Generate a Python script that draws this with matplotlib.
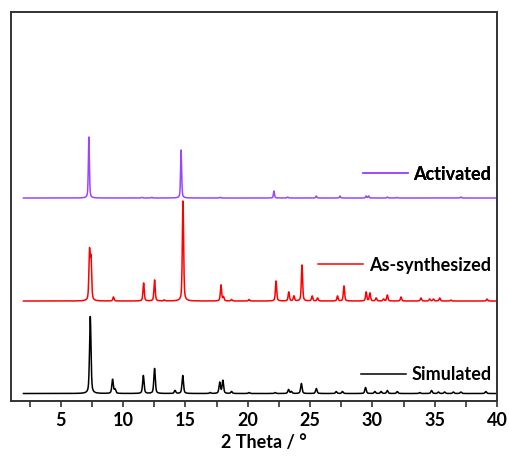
import numpy as np
import matplotlib
matplotlib.use("Agg")
import matplotlib.pyplot as plt
from matplotlib.ticker import MultipleLocator
from matplotlib.lines import Line2D

plt.rcParams['font.family'] = ['Lato', 'DejaVu Sans']
plt.rcParams['font.weight'] = 'bold'

# peak positions (2 theta) and heights
sim_pos = [7.36, 9.15, 9.35, 11.62, 12.52, 14.16, 14.78, 16.98, 17.75, 18.0, 18.7, 20.1,
           22.2, 23.27, 23.5, 24.3, 25.5, 27.1, 27.6, 29.45, 30.2, 30.7, 31.2, 32.0,
           33.8, 34.75, 35.3, 35.8, 36.5, 37.1, 39.1]
sim_h = [77, 14, 4, 18, 25, 3, 18, 1, 11, 13, 2, 1,
         1, 4, 2, 10, 5, 2, 2, 6, 2, 2, 3, 2,
         1, 3, 1.5, 1.5, 1.5, 1.5, 2]

syn_pos = [7.30, 7.42, 9.22, 11.64, 12.52, 13.3, 14.8, 17.85, 18.05, 18.7, 20.1,
           22.27, 23.29, 23.7, 24.35, 25.17, 25.6, 27.2, 27.72, 29.5, 29.8, 30.3, 30.9,
           31.2, 32.3, 33.9, 34.6, 34.9, 35.4, 36.3, 39.2]
syn_h = [48, 40, 4, 18, 21, 1, 100, 16, 4, 1.5, 1.5,
         20, 9, 5, 36, 5, 3, 5, 15, 9, 8, 3, 2,
         6, 4, 3, 2, 2, 3, 1, 2]

act_pos = [7.25, 11.5, 12.3, 14.65, 17.8, 22.1, 23.2, 25.5, 27.4, 29.5, 29.7, 31.2, 32.0, 37.1]
act_h = [61, 0.7, 0.7, 48, 0.7, 7, 1, 2, 2, 2, 2, 1, 0.6, 1]

offsets = {'Simulated': 7.5, 'As-synthesized': 100, 'Activated': 203}
colors = {'Simulated': 'black', 'As-synthesized': '#ff0000', 'Activated': '#9b45ff'}


def pattern(x, pos, h, fwhm):
    y = np.zeros_like(x)
    g = fwhm / 2
    for p, a in zip(pos, h):
        lor = g**2 / ((x - p)**2 + g**2)
        gau = np.exp(-np.log(2) * ((x - p) / g)**2)
        y += a * (0.5 * lor + 0.5 * gau)
    return y


x = np.arange(2, 40.001, 0.01)

fig = plt.figure(figsize=(5.1, 4.57), dpi=100)
ax = fig.add_axes([0.0216, 0.1225, 0.9529, 0.8512])

series = [('Simulated', sim_pos, sim_h, 0.14),
          ('As-synthesized', syn_pos, syn_h, 0.12),
          ('Activated', act_pos, act_h, 0.1)]

for name, pos, h, w in series:
    ax.plot(x, pattern(x, pos, h, w) + offsets[name], color=colors[name], lw=1.1)

# labels next to each trace
anchors = {'Activated': (0.724, 0.5835), 'As-synthesized': (0.632, 0.3496), 'Simulated': (0.720, 0.0686)}
for name, _, _, _ in series:
    leg = ax.legend([Line2D([], [], color=colors[name], lw=1.1)], [name],
                    loc='center left', bbox_to_anchor=anchors[name], frameon=False,
                    borderpad=0, borderaxespad=0, handlelength=2.5, handletextpad=0.3,
                    prop={'weight': 'bold', 'size': 13})
    ax.add_artist(leg)

ax.set_xlim(1, 40)
ax.set_ylim(0, 389)
ax.set_yticks([])
ax.xaxis.set_major_locator(MultipleLocator(5))
ax.xaxis.set_minor_locator(MultipleLocator(2.5))
ax.tick_params(axis='x', which='both', direction='out', length=4, width=1.2, color='#333333',
               labelsize=13, pad=4)
for s in ax.spines.values():
    s.set_linewidth(1.4)
    s.set_color('#333333')
ax.set_xlabel('2 Theta / °', fontsize=13, fontweight='bold')
ax.xaxis.set_label_coords(0.52, -0.085)

fig.savefig('out.png', dpi=100)
